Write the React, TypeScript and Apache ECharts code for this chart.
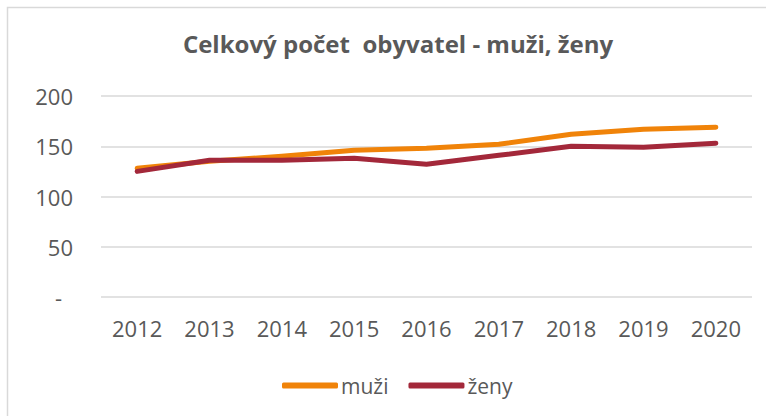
import React, { useEffect, useRef } from "react";
import * as echarts from "echarts";

const years = ["2012", "2013", "2014", "2015", "2016", "2017", "2018", "2019", "2020"];
const muzi = [128, 135, 140, 146, 148, 152, 162, 167, 169];
const zeny = [125, 136, 136, 138, 132, 141, 150, 149, 153];
const titleText = "Celkový počet  obyvatel - muži, ženy";
const seriesNames = ["muži", "ženy"];

const FONT = "'Open Sans', 'Noto Sans', sans-serif";
const GREY = "#595959";

export default function App() {
  const ref = useRef<HTMLDivElement>(null);
  useEffect(() => {
    if (!ref.current) return;
    const chart = echarts.init(ref.current, null, { renderer: "svg" });
    chart.setOption({
      animation: false,
      backgroundColor: "#ffffff",
      graphic: [
        {
          type: "rect",
          shape: { x: 7.5, y: 7.5, width: 800, height: 500 },
          style: { fill: "none", stroke: "#d9d9d9", lineWidth: 1.5 },
          silent: true,
        },
      ],
      title: {
        text: titleText,
        left: 393,
        textAlign: "center",
        top: 26,
        textStyle: { fontFamily: FONT, fontWeight: "bold", fontSize: 24, color: GREY },
      },
      legend: {
        left: 277,
        top: 370,
        itemWidth: 56,
        itemHeight: 6,
        itemGap: 20,
        icon: "roundRect",
        textStyle: { fontFamily: FONT, fontSize: 21, color: GREY, padding: [0, 0, 0, -2] },
        data: seriesNames,
      },
      grid: { left: 101, right: 14, top: 96, bottom: 119 },
      xAxis: {
        type: "category",
        data: years,
        boundaryGap: true,
        axisLine: { show: false },
        axisTick: { show: false },
        axisLabel: { fontFamily: FONT, fontSize: 22, color: GREY, margin: 20 },
      },
      yAxis: {
        type: "value",
        min: 0,
        max: 200,
        interval: 50,
        axisLine: { show: false },
        axisTick: { show: false },
        splitLine: { lineStyle: { color: "#d9d9d9", width: 1.5 } },
        axisLabel: {
          fontFamily: FONT,
          fontSize: 22,
          color: GREY,
          margin: 28,
          formatter: (v: number) => (v === 0 ? "{d|-}" : String(v)),
          rich: { d: { fontFamily: FONT, fontSize: 22, color: GREY, padding: [0, 11, 0, 0] } },
        },
      },
      series: [
        {
          name: seriesNames[0],
          type: "line",
          data: muzi,
          symbol: "none",
          lineStyle: { color: "#F08309", width: 5, cap: "round", join: "round" },
          itemStyle: { color: "#F08309" },
        },
        {
          name: seriesNames[1],
          type: "line",
          data: zeny,
          symbol: "none",
          lineStyle: { color: "#A3283A", width: 5, cap: "round", join: "round" },
          itemStyle: { color: "#A3283A" },
        },
      ],
    });
    return () => chart.dispose();
  }, []);
  return (
    <div
      ref={ref}
      style={{ position: "absolute", left: 0, top: 0, width: 766, height: 416 }}
    />
  );
}
